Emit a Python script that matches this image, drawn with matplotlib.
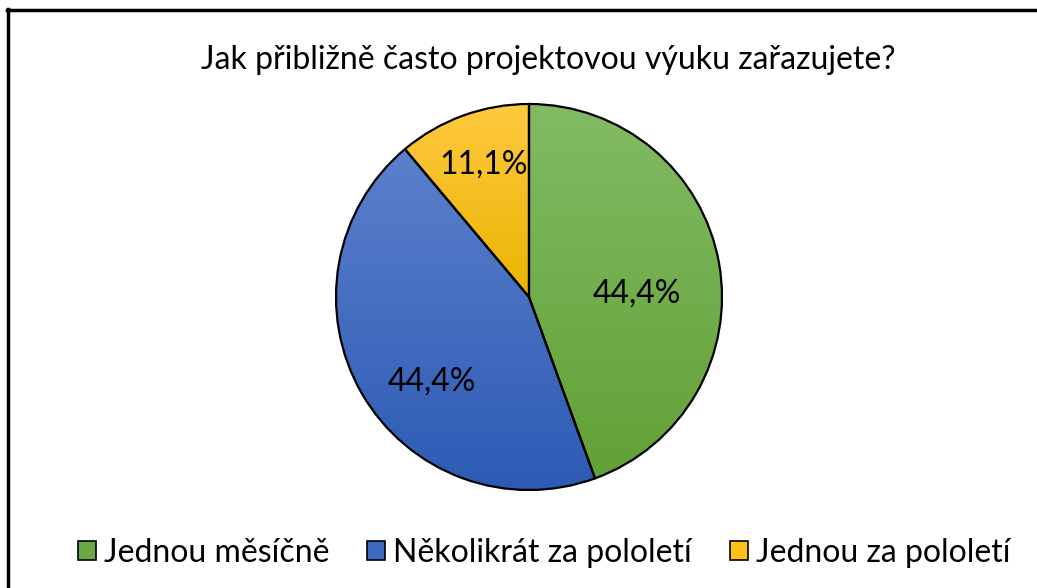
import numpy as np
import matplotlib
matplotlib.use("Agg")
import matplotlib.pyplot as plt
from matplotlib.patches import Patch
from matplotlib.colors import LinearSegmentedColormap

title = "Jak přibližně často projektovou výuku zařazujete?"
categories = ["Jednou měsíčně", "Několikrát za pololetí", "Jednou za pololetí"]
values = [44.4, 44.4, 11.1]
colors_top = ["#82bb64", "#5c80cc", "#ffc940"]
colors_bot = ["#62a136", "#2c5ab4", "#eab400"]
colors_solid = ["#6aa843", "#3f68c0", "#fdbf1a"]
label_dist = [0.56, 0.665, 0.724]
label_angle_offset = [-8, 11, -1]

plt.rcParams['font.family'] = ['Lato', 'DejaVu Sans']

W, H = 1037, 588
fig = plt.figure(figsize=(W / 100, H / 100), dpi=100)
ax = fig.add_axes([0, 0, 1, 1])
ax.set_xlim(0, W)
ax.set_ylim(0, H)
ax.set_aspect('equal')
ax.axis('off')

cx, cy, r = 529, H - 297, 193
wedges, _ = ax.pie(values, startangle=90, counterclock=False, center=(cx, cy),
                   radius=r, frame=True,
                   wedgeprops=dict(facecolor='none', edgecolor='black', linewidth=1.6, zorder=3))
ax.set_xlim(0, W)
ax.set_ylim(0, H)
ax.axis('off')

for i, w in enumerate(wedges):
    v = w.get_path().vertices
    ymin, ymax = v[:, 1].min(), v[:, 1].max()
    xmin, xmax = v[:, 0].min(), v[:, 0].max()
    cmap = LinearSegmentedColormap.from_list("g%d" % i, [colors_bot[i], colors_top[i]])
    grad = np.linspace(0, 1, 256).reshape(-1, 1)
    im = ax.imshow(grad, cmap=cmap, origin='lower', aspect='auto',
                   extent=(xmin - 2, xmax + 2, ymin - 2, ymax + 2), zorder=2)
    im.set_clip_path(w)
    ang = np.deg2rad((w.theta1 + w.theta2) / 2 + label_angle_offset[i])
    d = label_dist[i] * r
    ax.text(cx + d * np.cos(ang), cy + d * np.sin(ang),
            ("%.1f%%" % values[i]).replace('.', ','), ha='center', va='center',
            fontsize=23, color='black', zorder=4)

ax.set_xlim(0, W)
ax.set_ylim(0, H)

fig.text(548 / W, 1 - 60 / H, title, ha='center', va='center', fontsize=23)

handles = [Patch(facecolor=colors_solid[i], edgecolor='black', linewidth=1.2) for i in range(3)]
fig.legend(handles, categories, loc='center', bbox_to_anchor=(544 / W, 1 - 553 / H), ncol=3,
           frameon=False, fontsize=23, handlelength=0.55, handleheight=0.55, handletextpad=0.25,
           columnspacing=1.2)

# chart frame (top and left edges visible)
fig.add_artist(plt.Line2D([8 / W, 8 / W], [0, 1 - 9 / H], color='black', linewidth=2.5))
fig.add_artist(plt.Line2D([7 / W, 1], [1 - 10 / H, 1 - 10 / H], color='black', linewidth=2.5))

fig.savefig("out.png", dpi=100)
